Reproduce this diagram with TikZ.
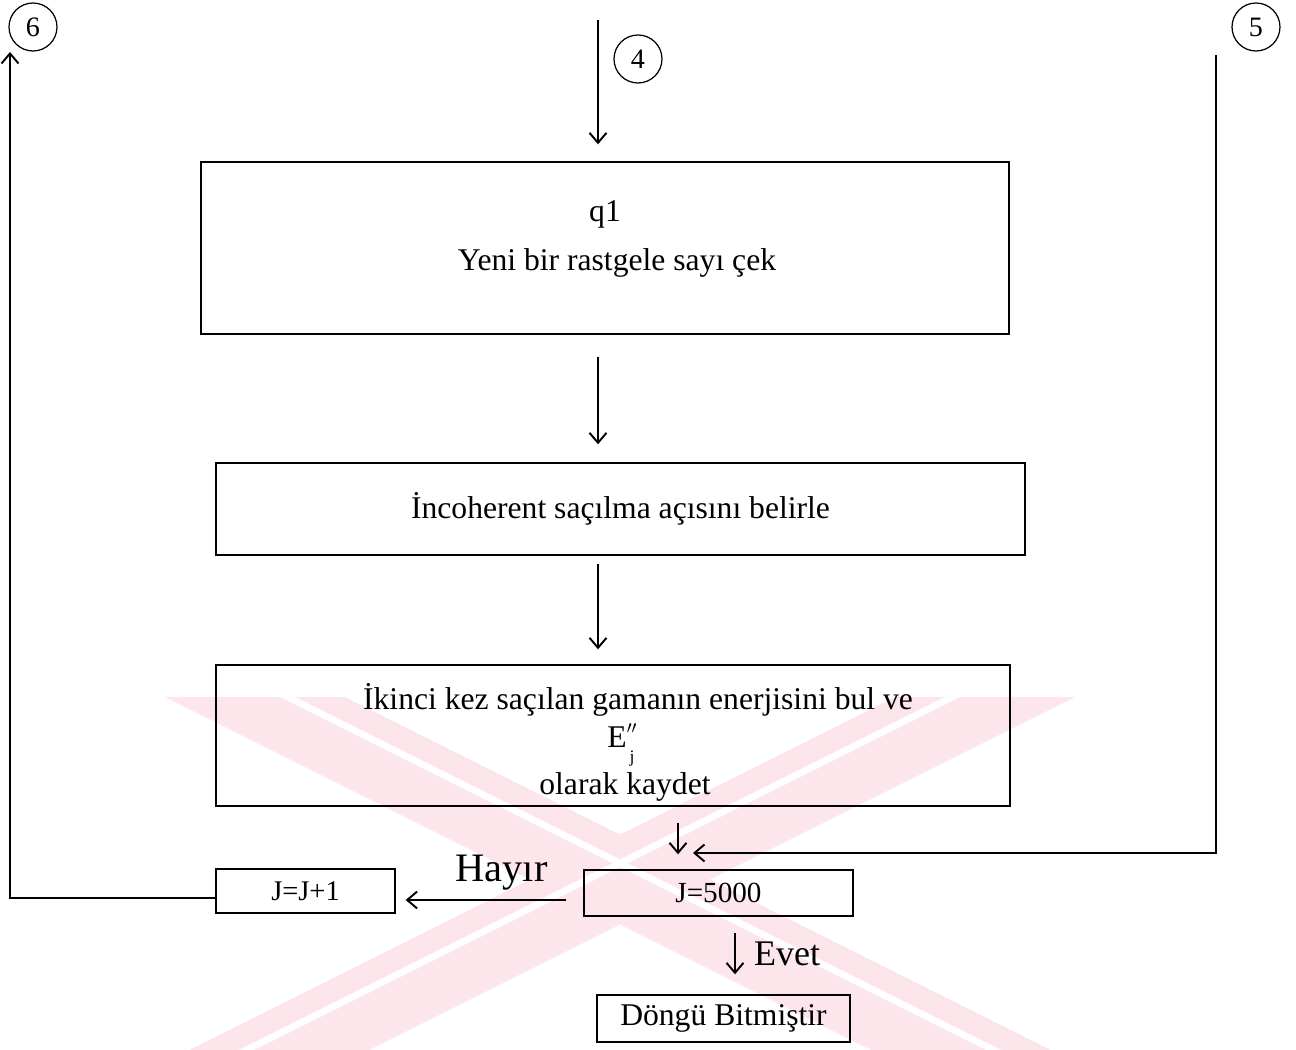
\documentclass[tikz,border=0pt]{standalone}
\usepackage{fontspec}
\setmainfont{Liberation Serif}
\usetikzlibrary{arrows.meta}

\definecolor{wmpink}{RGB}{253,230,235}

\begin{document}
\begin{tikzpicture}[x=0.02cm,y=-0.02cm,
  box/.style={draw,line width=0.8pt,inner sep=0pt},
  txt/.style={font=\fontsize{18}{22}\selectfont,align=center},
  conn/.style={line width=0.8pt,-{Straight Barb[length=2mm,width=3.4mm,line width=1.1pt]}},
  circ/.style={circle,draw,line width=0.7pt,minimum size=0.96cm,inner sep=0pt,font=\fontsize{16}{16}\selectfont}]
\useasboundingbox (0,0) rectangle (1296,1050);

% watermark
\fill[wmpink] (165,697) -- (345,697) -- (1051,1050) -- (871,1050) -- cycle;
\fill[wmpink] (895,697) -- (1075,697) -- (369,1050) -- (189,1050) -- cycle;
\fill[white] (280,697) -- (295,697) -- (1001,1050) -- (986,1050) -- cycle;
\fill[white] (945,697) -- (960,697) -- (254,1050) -- (239,1050) -- cycle;

% kutular
\node[box,minimum width=16.16cm,minimum height=3.44cm] (q1box) at (605,248) {};
\node[txt] (q1txt) at (605,214) {q1};
\node[txt] (yeni) at (617,263) {Yeni bir rastgele sayı çek};

\node[box,minimum width=16.18cm,minimum height=1.84cm,txt] (incoh) at (620.5,509) {İncoherent saçılma açısını belirle};

\node[box,minimum width=15.88cm,minimum height=2.82cm] (enerji) at (613,735.5) {};
\node[txt,inner sep=0pt] (enerjitxt) at (638,700) {İkinci kez saçılan gamanın enerjisini bul ve};
\node[txt,inner sep=0pt] (etxt) at (621,745) {E\rlap{\raisebox{0.3ex}{\fontsize{14}{14}\selectfont$''$}}\raisebox{-1.0ex}{\fontsize{10}{10}\selectfont\,j}};
\node[txt,inner sep=0pt] (kaydet) at (625,787) {olarak kaydet};

\node[box,minimum width=5.38cm,minimum height=0.92cm,font=\fontsize{16.6}{17}\selectfont] (jcheck) at (718.5,893) {J=5000};
\node[box,minimum width=3.58cm,minimum height=0.88cm,font=\fontsize{16.2}{17}\selectfont] (jinc) at (305.5,891) {J=J+1};
\node[box,minimum width=5.06cm,minimum height=0.94cm,font=\fontsize{18}{18}\selectfont] (bitti) at (723.5,1018.5) {Döngü Bitmiştir};

% baglanti noktalari
\node[circ] (c6) at (33,27) {6};
\node[circ] (c4) at (638,59) {4};
\node[circ] (c5) at (1256,27) {5};
\coordinate (top4) at (598,20);
\coordinate (loop5) at (1216,55);
\coordinate (merge) at (693,853);
\coordinate (loop6) at (10,52);

% oklar
\draw[conn,shorten >=0.34cm] (top4) -- (q1box.north -| top4);
\draw[conn,shorten <=0.44cm,shorten >=0.36cm] (q1box.south -| top4) -- (incoh.north -| top4);
\draw[conn,shorten <=0.16cm,shorten >=0.3cm] (incoh.south -| top4) -- (enerji.north -| top4);
\draw[conn,shorten <=0.32cm,shorten >=0.3cm] (enerji.south -| 678,0) -- (jcheck.north -| 678,0);
\draw[conn] (loop5) |- (merge);
\draw[conn,shorten <=0.34cm,shorten >=0.2cm] (jcheck.west |- 0,900) -- (jinc.east |- 0,900)
  node[midway,above=2pt,xshift=0.24cm,font=\fontsize{23}{23}\selectfont] {Hayır};
\draw[conn] (jinc.west |- 0,898) -| (loop6);
\draw[conn,shorten <=0.32cm,shorten >=0.4cm] (jcheck.south -| 735,0) -- (bitti.north -| 735,0)
  node[midway,right=0.25cm,yshift=0.04cm,font=\fontsize{20.5}{21}\selectfont] {Evet};
\end{tikzpicture}
\end{document}
